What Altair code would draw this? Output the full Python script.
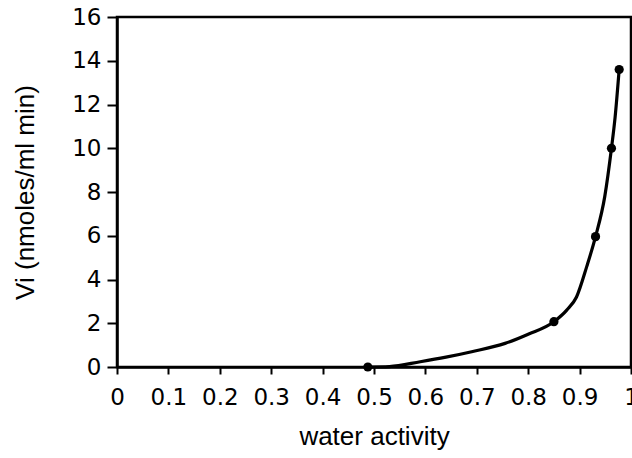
import altair as alt
import pandas as pd

# measured points
aw_points = [0.488, 0.850, 0.931, 0.962, 0.977]
vi_points = [0.0, 2.07, 5.96, 10.0, 13.6]

# fitted curve
aw_curve = [0.488, 0.53, 0.59, 0.64, 0.69, 0.755, 0.80, 0.850, 0.875, 0.894,
            0.914, 0.931, 0.949, 0.962, 0.969, 0.977]
vi_curve = [0.0, 0.02, 0.24, 0.45, 0.70, 1.08, 1.50, 2.07, 2.60, 3.20,
            4.60, 5.96, 7.80, 10.0, 11.4, 13.6]

x_ticks = [0, 0.1, 0.2, 0.3, 0.4, 0.5, 0.6, 0.7, 0.8, 0.9, 1]
y_ticks = [0, 2, 4, 6, 8, 10, 12, 14, 16]

pts = pd.DataFrame({"aw": aw_points, "vi": vi_points})
curve = pd.DataFrame({"aw": aw_curve, "vi": vi_curve})

LABEL_FONT = "DejaVu Sans"
TITLE_FONT = "Liberation Sans"

x_enc = alt.X(
    "aw:Q",
    scale=alt.Scale(domain=[0, 1], nice=False, zero=False),
    axis=alt.Axis(
        title="water activity",
        values=x_ticks,
        labelExpr="datum.value == 0 ? '0' : datum.value == 1 ? '1' : format(datum.value, '.1f')",
        grid=False,
        domainColor="black",
        domainWidth=2.5,
        tickColor="black",
        tickWidth=2,
        tickSize=7,
        labelFont=LABEL_FONT,
        labelFontSize=23,
        labelColor="black",
        labelPadding=12,
        labelFlush=False,
        labelOverlap=False,
        titleFont=TITLE_FONT,
        titleFontSize=26,
        titleFontWeight="normal",
        titleColor="black",
        titlePadding=14,
    ),
)
y_enc = alt.Y(
    "vi:Q",
    scale=alt.Scale(domain=[0, 16], nice=False),
    axis=alt.Axis(
        title="Vi (nmoles/ml min)",
        values=y_ticks,
        grid=False,
        domainColor="black",
        domainWidth=2.5,
        tickColor="black",
        tickWidth=2,
        tickSize=10,
        labelFont=LABEL_FONT,
        labelFontSize=23,
        labelColor="black",
        labelPadding=6,
        labelFlush=False,
        labelOverlap=False,
        titleFont=TITLE_FONT,
        titleFontSize=26,
        titleFontWeight="normal",
        titleColor="black",
        titlePadding=33,
    ),
)

line = alt.Chart(curve).mark_line(
    color="black", strokeWidth=3.2, interpolate="monotone"
).encode(x=x_enc, y=y_enc)

dots = alt.Chart(pts).mark_point(
    filled=True, color="black", size=85, opacity=1
).encode(x=x_enc, y=y_enc)

chart = alt.layer(line, dots).properties(
    width=514,
    height=350,
    autosize=alt.AutoSizeParams(type="none"),
    padding={"left": 117, "top": 17, "right": 1, "bottom": 91},
    background="white",
).configure_view(stroke="black", strokeWidth=2.5)

chart.save("out.html", embed_options={"renderer": "svg", "actions": False})
